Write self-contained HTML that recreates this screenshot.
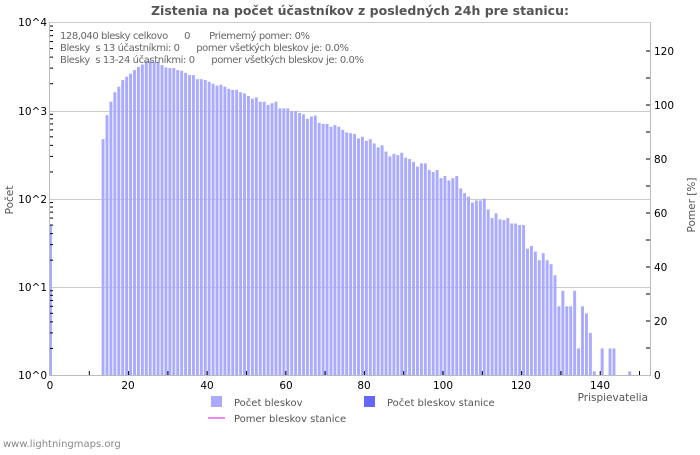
<!DOCTYPE html>
<html><head><meta charset="utf-8"><style>
body{margin:0;background:#fff}
svg text{font-family:"DejaVu Sans","Liberation Sans",sans-serif;white-space:pre}
</style></head><body>
<svg id="s" width="700" height="450" xmlns="http://www.w3.org/2000/svg">
<rect width="700" height="450" fill="#fff"/>
<text x="360" y="15" text-anchor="middle" font-size="12.5" font-weight="bold" fill="#555">Zistenia na počet účastníkov z posledných 24h pre stanicu:</text>
<g id="grid" stroke="#ccc" stroke-width="1">
<line x1="50" x2="650" y1="22.5" y2="22.5"/>
<line x1="50" x2="650" y1="111.5" y2="111.5"/>
<line x1="50" x2="650" y1="199.5" y2="199.5"/>
<line x1="50" x2="650" y1="287.5" y2="287.5"/>
</g>
<g id="bars" fill="#aaaaff"></g>
<g stroke="#bbb"><line x1="49.5" y1="22" x2="49.5" y2="375"/><line x1="650.5" y1="22" x2="650.5" y2="375"/><line x1="49" y1="375.5" x2="651" y2="375.5"/></g>
<g id="ticks" stroke="#000" stroke-width="1"></g>
<g font-size="10.5" fill="#000">
<text x="47" y="26" text-anchor="end">10^4</text>
<text x="47" y="115" text-anchor="end">10^3</text>
<text x="47" y="203" text-anchor="end">10^2</text>
<text x="47" y="291" text-anchor="end">10^1</text>
<text x="47" y="379" text-anchor="end">10^0</text>
<text x="50" y="389" text-anchor="middle">0</text>
<text x="128" y="389" text-anchor="middle">20</text>
<text x="207" y="389" text-anchor="middle">40</text>
<text x="286" y="389" text-anchor="middle">60</text>
<text x="364" y="389" text-anchor="middle">80</text>
<text x="443" y="389" text-anchor="middle">100</text>
<text x="521" y="389" text-anchor="middle">120</text>
<text x="600" y="389" text-anchor="middle">140</text>
<text x="654" y="379">0</text>
<text x="654" y="325">20</text>
<text x="654" y="271">40</text>
<text x="654" y="217">60</text>
<text x="654" y="163">80</text>
<text x="654" y="109">100</text>
<text x="654" y="55">120</text>
</g>
<g font-size="10" fill="#666">
<text x="60" y="39" textLength="250">128,040 blesky celkovo      0       Priemerný pomer: 0%</text>
<text x="60" y="51" textLength="289">Blesky  s 13 účastníkmi: 0      pomer všetkých bleskov je: 0.0%</text>
<text x="60" y="63" textLength="304">Blesky  s 13-24 účastníkmi: 0      pomer všetkých bleskov je: 0.0%</text>
</g>
<text font-size="10.5" fill="#555" transform="translate(13,200) rotate(-90)" text-anchor="middle">Počet</text>
<text font-size="10.5" fill="#555" transform="translate(695,205) rotate(-90)" text-anchor="middle">Pomer [%]</text>
<text x="648" y="401" font-size="10.5" fill="#555" text-anchor="end">Prispievatelia</text>
<rect x="211" y="396" width="11" height="11" fill="#aaaaff"/>
<text x="234" y="406" font-size="10" fill="#555">Počet bleskov</text>
<rect x="364" y="396" width="11" height="11" fill="#6666ff"/>
<text x="387" y="406" font-size="10" fill="#555">Počet bleskov stanice</text>
<line x1="208" x2="225" y1="418" y2="418" stroke="#ee88ee" stroke-width="2"/>
<text x="234" y="422" font-size="10" fill="#555">Pomer bleskov stanice</text>
<text x="3" y="447" font-size="10" fill="#888">www.lightningmaps.org</text>
</svg>
<script>
var v={13:470,14:880,15:1250,16:1600,17:1850,18:2200,19:2400,20:2600,21:2850,22:3100,23:3300,24:3600,25:3650,26:3500,27:3550,28:3250,29:3050,30:3000,31:3000,32:2850,33:2800,34:2650,35:2500,36:2500,37:2250,38:2250,39:2200,40:2100,41:2000,42:1900,43:1950,44:1850,45:1750,46:1700,47:1700,48:1600,49:1550,50:1450,51:1350,52:1400,53:1250,54:1250,55:1150,56:1200,57:1250,58:1050,59:1050,60:1050,61:980,62:980,63:930,64:900,65:800,66:850,67:870,68:720,69:700,70:700,71:650,72:680,73:650,74:600,75:560,76:550,77:540,78:480,79:500,80:450,81:470,82:420,83:380,84:400,85:340,86:300,87:320,88:310,89:330,90:290,91:280,92:260,93:230,94:250,95:250,96:210,97:200,98:210,99:170,100:180,101:160,102:170,103:180,104:130,105:115,106:105,107:90,108:95,109:95,110:100,111:75,112:60,113:68,114:58,115:57,116:60,117:52,118:52,119:50,120:50,121:27,122:29,123:25,124:20,125:24,126:20,127:18,128:13.5,129:6,130:9,131:6,132:6,133:9,134:2,135:6,136:5,137:3,138:1.1,140:2,142:2,143:2,147:1.1};
var ns="http://www.w3.org/2000/svg",g=document.getElementById("bars"),t=document.getElementById("ticks");
function el(p,n,a){var e=document.createElementNS(ns,n);for(var k in a)e.setAttribute(k,a[k]);p.appendChild(e);}
var sx=3.93,dec=88.25;
for(var i in v){var h=dec*Math.log10(v[i]);el(g,"rect",{x:50+i*sx+0.5,y:375-h,width:sx-1,height:h});}
el(g,"rect",{x:50,y:225,width:2,height:150});
for(var d=0;d<4;d++)for(var m=2;m<=9;m++){var y=375-dec*(d+Math.log10(m));el(t,"line",{x1:50,x2:53,y1:y,y2:y});}
for(var x=10;x<=150;x+=10){var px=50+x*sx;el(t,"line",{x1:px,x2:px,y1:371,y2:375});}
for(var p=10;p<=120;p+=10){var y=375-p*2.7;el(t,"line",{x1:646,x2:650,y1:y,y2:y});}
</script>
</body></html>
